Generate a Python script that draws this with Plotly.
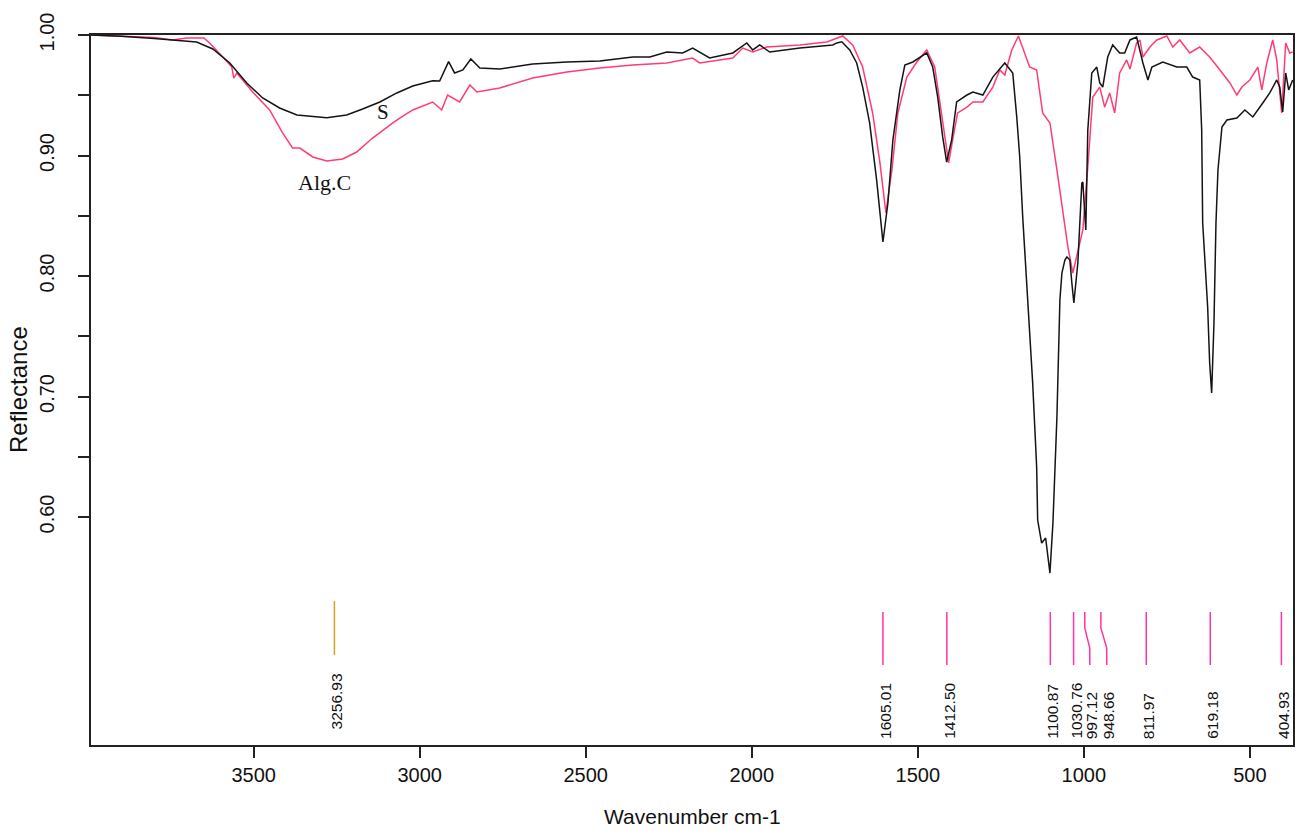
import plotly.graph_objects as go

# ---------------- data ----------------
s_wn = [3991, 3900, 3800, 3744, 3672, 3623, 3572, 3521, 3473, 3422, 3370, 3280, 3220, 3172, 3120,
        3069, 3060, 3021, 2961, 2940, 2913, 2895, 2870, 2846, 2819, 2759, 2660, 2557, 2458, 2358,
        2307, 2256, 2208, 2178, 2127, 2057, 2015, 1997, 1976, 1946, 1855, 1756, 1744, 1729, 1705,
        1684, 1666, 1645, 1624, 1605, 1590, 1575, 1554, 1539, 1515, 1473, 1455, 1440, 1425, 1413,
        1398, 1383, 1352, 1334, 1304, 1274, 1238, 1214, 1202, 1193, 1184, 1178, 1163, 1154, 1142,
        1139, 1127, 1115, 1102, 1093, 1081, 1072, 1066, 1057, 1051, 1042, 1036, 1030, 1018, 1006,
        1003, 994, 988, 976, 961, 952, 943, 928, 913, 892, 877, 861, 841, 822, 807, 795, 762, 720,
        690, 672, 651, 645, 642, 633, 627, 621, 615, 608, 602, 596, 584, 569, 539, 515, 491, 461,
        440, 419, 410, 401, 392, 383, 371]
s_val = [1.000, 0.999, 0.997, 0.9959, 0.9942, 0.9884, 0.9768, 0.9602, 0.9477, 0.9394, 0.9336, 0.9314,
         0.9336, 0.9386, 0.9444, 0.9519, 0.9529, 0.9577, 0.9620, 0.9618, 0.9779, 0.9685, 0.9710, 0.9801,
         0.9726, 0.9718, 0.9759, 0.9776, 0.9784, 0.9817, 0.9817, 0.9859, 0.9851, 0.9892, 0.9809, 0.9851,
         0.9934, 0.9876, 0.9917, 0.9859, 0.9892, 0.9917, 0.9934, 0.9944, 0.9876, 0.9768, 0.9568, 0.9270,
         0.8797, 0.8282, 0.8606, 0.9129, 0.9544, 0.9751, 0.9776, 0.9851, 0.9734, 0.9485, 0.9154, 0.8946,
         0.9129, 0.9444, 0.9502, 0.9527, 0.9502, 0.9651, 0.9768, 0.9685, 0.9320, 0.8988, 0.8490, 0.8216,
         0.7527, 0.7112, 0.6415, 0.5975, 0.5784, 0.5826, 0.5535, 0.5950, 0.6830, 0.7801, 0.8025, 0.8133,
         0.8158, 0.8133, 0.7942, 0.7776, 0.8108, 0.8772, 0.8780, 0.8382, 0.9212, 0.9685, 0.9734, 0.9602,
         0.9568, 0.9817, 0.9917, 0.9851, 0.9851, 0.9959, 0.9983, 0.9768, 0.9627, 0.9734, 0.9776, 0.9734,
         0.9734, 0.9651, 0.9627, 0.9212, 0.8440, 0.7967, 0.7743, 0.7278, 0.7029, 0.7610, 0.8440, 0.8880,
         0.9237, 0.9295, 0.9311, 0.9378, 0.9320, 0.9436, 0.9519, 0.9627, 0.9568, 0.9361, 0.9685, 0.9544,
         0.9627]

alg_wn = [3991, 3800, 3744, 3702, 3650, 3633, 3593, 3566, 3560, 3551, 3503, 3452, 3413, 3383, 3361,
          3322, 3280, 3232, 3190, 3142, 3081, 3060, 3021, 2961, 2934, 2916, 2880, 2849, 2828, 2759,
          2660, 2557, 2458, 2358, 2256, 2178, 2157, 2057, 2027, 1997, 1955, 1855, 1774, 1735, 1726,
          1696, 1666, 1636, 1614, 1596, 1578, 1560, 1533, 1503, 1473, 1449, 1428, 1407, 1395, 1380,
          1352, 1334, 1304, 1274, 1253, 1238, 1217, 1197, 1163, 1142, 1124, 1102, 1081, 1063, 1048,
          1033, 1018, 1003, 988, 973, 952, 937, 922, 907, 892, 871, 861, 852, 841, 831, 822, 801,
          780, 750, 732, 711, 681, 651, 621, 590, 560, 539, 524, 500, 476, 464, 449, 431, 419, 404,
          392, 380, 371]
alg_val = [1.000, 0.998, 0.9959, 0.9975, 0.9975, 0.9934, 0.9817, 0.9734, 0.9643, 0.9685, 0.9527, 0.9378,
           0.9187, 0.9062, 0.9062, 0.8988, 0.8954, 0.8971, 0.9029, 0.9145, 0.9270, 0.9311, 0.9378, 0.9444,
           0.9378, 0.9502, 0.9444, 0.9585, 0.9527, 0.9560, 0.9643, 0.9693, 0.9726, 0.9751, 0.9768, 0.9809,
           0.9768, 0.9809, 0.9892, 0.9859, 0.9900, 0.9917, 0.9942, 0.9983, 0.9992, 0.9917, 0.9734, 0.9353,
           0.8938, 0.8523, 0.8880, 0.9353, 0.9651, 0.9776, 0.9876, 0.9734, 0.9353, 0.8938, 0.9129, 0.9353,
           0.9402, 0.9444, 0.9444, 0.9568, 0.9710, 0.9668, 0.9876, 0.9992, 0.9734, 0.9710, 0.9353, 0.9270,
           0.8880, 0.8548, 0.8241, 0.8025, 0.8216, 0.8382, 0.8905, 0.9485, 0.9568, 0.9402, 0.9519, 0.9353,
           0.9685, 0.9793, 0.9718, 0.9810, 0.9934, 0.9959, 0.9817, 0.9900, 0.9959, 0.9992, 0.9900, 0.9959,
           0.9851, 0.9900, 0.9817, 0.9710, 0.9602, 0.9502, 0.9568, 0.9627, 0.9734, 0.9544, 0.9768, 0.9959,
           0.9793, 0.9353, 0.9934, 0.9851, 0.9859]

peaks = [1605.01, 1412.50, 1100.87, 1030.76, 997.12, 948.66, 811.97, 619.18, 404.93]
peak_labels = ["1605.01", "1412.50", "1100.87", "1030.76", "997.12", "948.66", "811.97", "619.18", "404.93"]
peak_label_pos = [1605.01, 1412.50, 1100.87, 1030.76, 982.0, 931.0, 811.97, 619.18, 404.93]
peak_oh = 3256.93
peak_oh_label = "3256.93"

x_ticks = [3500, 3000, 2500, 2000, 1500, 1000, 500]
y_ticks = [0.60, 0.70, 0.80, 0.90, 1.00]
y_tick_text = ["0.60", "0.70", "0.80", "0.90", "1.00"]
y_minor = [0.65, 0.75, 0.85, 0.95]

# ---------------- style ----------------
BLACK = "#141414"
PINK = "#FF3C74"
MARK = "#FF33A8"
GOLD = "#D9A21E"
TXT = "#111111"
Y_LO, Y_HI = 0.4108, 1.0
TOP, KINK1, KINK2, BOT = 0.5212, 0.5079, 0.4913, 0.4772
LBL_Y = 0.4141
OH_TOP, OH_BOT, OH_LBL = 0.5303, 0.4855, 0.4224

fig = go.Figure()
fig.add_trace(go.Scatter(x=alg_wn, y=alg_val, mode="lines", line=dict(color=PINK, width=1.5),
                         name="Alg.C", hoverinfo="skip"))
fig.add_trace(go.Scatter(x=s_wn, y=s_val, mode="lines", line=dict(color=BLACK, width=1.5),
                         name="S", hoverinfo="skip"))

# peak marker lines
for p, lp in zip(peaks, peak_label_pos):
    if lp == p:
        xs, ys = [p, p], [TOP, BOT]
    else:
        xs, ys = [p, p, lp, lp], [TOP, KINK1, KINK2, BOT]
    fig.add_trace(go.Scatter(x=xs, y=ys, mode="lines", line=dict(color=MARK, width=1.5),
                             showlegend=False, hoverinfo="skip"))
fig.add_trace(go.Scatter(x=[peak_oh, peak_oh], y=[OH_TOP, OH_BOT], mode="lines",
                         line=dict(color=GOLD, width=1.5), showlegend=False, hoverinfo="skip"))

annotations = []
for lp, t in zip(peak_label_pos, peak_labels):
    annotations.append(dict(x=lp, y=LBL_Y, text=t, textangle=-90, showarrow=False,
                            xanchor="center", yanchor="bottom", xshift=2,
                            font=dict(family="Arial", size=15.5, color=TXT)))
annotations.append(dict(x=peak_oh, y=OH_LBL, text=peak_oh_label, textangle=-90, showarrow=False,
                        xanchor="center", yanchor="bottom", xshift=2,
                        font=dict(family="Arial", size=15.5, color=TXT)))
annotations.append(dict(x=3111, y=0.936, text="S", showarrow=False,
                        font=dict(family="Liberation Serif", size=21, color=TXT)))
annotations.append(dict(x=3286, y=0.8780, text="Alg.C", showarrow=False,
                        font=dict(family="Liberation Serif", size=22, color=TXT)))
annotations.append(dict(x=0.5, xref="paper", y=0, yref="paper", yshift=-71, text="Wavenumber cm-1",
                        showarrow=False, yanchor="middle",
                        font=dict(family="Arial", size=21, color=TXT)))
annotations.append(dict(x=0, xref="paper", y=0.5, yref="paper", xshift=-73, text="Reflectance",
                        textangle=-90, showarrow=False, xanchor="center",
                        font=dict(family="Arial", size=24, color=TXT)))

fig.update_layout(
    width=1295, height=831,
    margin=dict(l=91, r=2, t=35, b=86, autoexpand=False),
    paper_bgcolor="white", plot_bgcolor="white",
    showlegend=False,
    annotations=annotations,
)
fig.update_xaxes(range=[3990, 370], tickvals=x_ticks, ticks="outside", ticklen=11,
                 tickcolor="#222", tickwidth=1.5,
                 showline=True, linecolor="#222", linewidth=1.5, mirror=True,
                 showgrid=False, zeroline=False,
                 tickfont=dict(family="Arial", size=20, color=TXT), ticklabelstandoff=0)
fig.update_yaxes(range=[Y_LO, Y_HI], tickvals=y_ticks, ticktext=y_tick_text, ticks="outside",
                 ticklen=11, tickcolor="#222", tickwidth=1.5, tickangle=-90,
                 minor=dict(tickvals=y_minor, ticks="outside", ticklen=11, tickcolor="#222", tickwidth=1.5),
                 showline=True, linecolor="#222", linewidth=1.5, mirror=True,
                 showgrid=False, zeroline=False,
                 tickfont=dict(family="Arial", size=20, color=TXT), ticklabelstandoff=16)

fig.write_html("out.html", config={"displayModeBar": False},
               post_script="document.body.style.margin='0';document.documentElement.style.overflow='hidden';")
